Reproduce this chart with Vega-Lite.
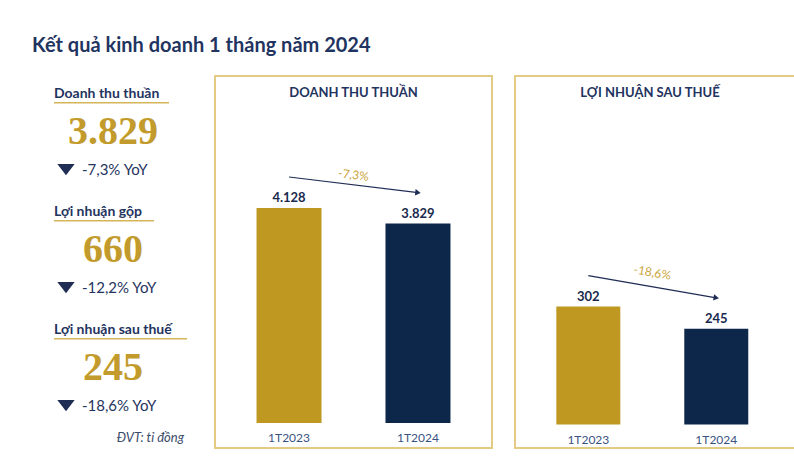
{
  "$schema": "https://vega.github.io/schema/vega-lite/v6.json",
  "padding": {"left": 32, "top": 36, "right": 0, "bottom": 0},
  "background": "white",
  "title": {
    "text": "Kết quả kinh doanh 1 tháng năm 2024",
    "anchor": "start",
    "font": "Lato",
    "fontSize": 20,
    "fontWeight": "bold",
    "color": "#1F3460",
    "baseline": "alphabetic",
    "offset": 3
  },
  "spacing": 23,
  "bounds": "flush",
  "hconcat": [
    {
      "width": 160,
      "height": 372,
      "data": {
        "values": [
          {"i": 0, "label": "Doanh thu thuần", "value": 3829, "yoy": "-7,3% YoY"},
          {"i": 1, "label": "Lợi nhuận gộp", "value": 660, "yoy": "-12,2% YoY"},
          {"i": 2, "label": "Lợi nhuận sau thuế", "value": 245, "yoy": "-18,6% YoY"}
        ]
      },
      "title": {
        "text": "ĐVT: tỉ đồng",
        "orient": "bottom",
        "anchor": "end",
        "offset": -10,
        "dx": -8,
        "baseline": "middle",
        "font": "Lato",
        "fontStyle": "italic",
        "fontWeight": "normal",
        "fontSize": 13,
        "color": "#3A4A6B"
      },
      "encoding": {
        "y": {"field": "i", "type": "quantitative", "scale": {"domain": [-0.15, 3.0025], "reverse": true}, "axis": null}
      },
      "layer": [
        {
          "mark": {"type": "text", "align": "left", "baseline": "middle", "font": "Lato", "fontWeight": "bold", "fontSize": 14, "color": "#1F3460"},
          "encoding": {
            "x": {"datum": 0, "type": "quantitative", "scale": {"domain": [-2.933, 18.4]}, "axis": null},
            "text": {"field": "label"}
          }
        },
        {
          "transform": [{"filter": "datum.i == 0"}],
          "mark": {"type": "rule", "color": "#D4B55A", "strokeWidth": 1.5, "yOffset": 9},
          "encoding": {
            "x": {"datum": 0, "type": "quantitative", "scale": {"domain": [-2.933, 18.4]}, "axis": null},
            "x2": {"datum": 15.33}
          }
        },
        {
          "transform": [{"filter": "datum.i == 1"}],
          "mark": {"type": "rule", "color": "#D4B55A", "strokeWidth": 1.5, "yOffset": 9},
          "encoding": {
            "x": {"datum": 0, "type": "quantitative", "scale": {"domain": [-2.933, 18.4]}, "axis": null},
            "x2": {"datum": 13.33}
          }
        },
        {
          "transform": [{"filter": "datum.i == 2"}],
          "mark": {"type": "rule", "color": "#D4B55A", "strokeWidth": 1.5, "yOffset": 9},
          "encoding": {
            "x": {"datum": 0, "type": "quantitative", "scale": {"domain": [-2.933, 18.4]}, "axis": null},
            "x2": {"datum": 17.73}
          }
        },
        {
          "mark": {"type": "text", "align": "center", "baseline": "middle", "font": "Liberation Serif", "fontWeight": "bold", "fontSize": 40, "color": "#C29B2C", "yOffset": 38.5},
          "encoding": {
            "x": {"datum": 7.87, "type": "quantitative", "scale": {"domain": [-2.933, 18.4]}, "axis": null},
            "text": {"field": "value", "type": "quantitative", "format": ",d"}
          }
        },
        {
          "mark": {"type": "point", "shape": "M-1,-0.65L1,-0.65L0,0.65Z", "filled": true, "size": 300, "opacity": 1, "color": "#1F2D55", "yOffset": 76},
          "encoding": {
            "x": {"datum": 1.6, "type": "quantitative", "scale": {"domain": [-2.933, 18.4]}, "axis": null}
          }
        },
        {
          "mark": {"type": "text", "align": "left", "baseline": "middle", "font": "Lato", "fontSize": 15, "color": "#1F3460", "yOffset": 76},
          "encoding": {
            "x": {"datum": 3.73, "type": "quantitative", "scale": {"domain": [-2.933, 18.4]}, "axis": null},
            "text": {"field": "yoy"}
          }
        }
      ]
    },
    {
      "width": 277,
      "height": 372,
      "view": {"stroke": "#E3CB83", "strokeWidth": 2},
      "title": {
        "text": "DOANH THU THUẦN",
        "offset": -30,
        "baseline": "middle",
        "font": "Lato",
        "fontSize": 13,
        "fontWeight": "bold",
        "color": "#1F3460"
      },
      "data": {
        "values": [
          {"period": "1T2023", "value": 4128, "chg": "-7,3%"},
          {"period": "1T2024", "value": 3829, "chg": "-7,3%"}
        ]
      },
      "encoding": {
        "x": {
          "field": "period", "type": "nominal", "sort": null,
          "scale": {"paddingInner": 0.496, "paddingOuter": 0.322, "align": 0.5},
          "axis": {"title": null, "domain": false, "ticks": false, "tickSize": 0, "labelPadding": 0, "offset": -11, "labelBaseline": "middle", "labelAngle": 0, "labelFont": "Lato", "labelFontSize": 12, "labelColor": "#3A5282", "grid": false}
        },
        "y": {"field": "value", "type": "quantitative", "scale": {"domain": [-480, 6663]}, "axis": null}
      },
      "layer": [
        {
          "mark": {"type": "bar"},
          "encoding": {"color": {"field": "period", "type": "nominal", "scale": {"range": ["#BE9820", "#0C2749"]}, "legend": null}}
        },
        {
          "mark": {"type": "text", "baseline": "middle", "dy": -10, "font": "Lato", "fontWeight": "bold", "fontSize": 13, "color": "#1A2A4E"},
          "encoding": {"text": {"field": "value", "type": "quantitative", "format": ",d"}}
        },
        {
          "mark": {"type": "line", "color": "#1F2D55", "strokeWidth": 1.2, "yOffset": -31},
          "encoding": {}
        },
        {
          "transform": [{"filter": "datum.period == '1T2024'"}],
          "mark": {"type": "point", "shape": "triangle-right", "filled": true, "size": 40, "angle": 7, "opacity": 1, "color": "#1F2D55", "yOffset": -31},
          "encoding": {}
        },
        {
          "transform": [{"filter": "datum.period == '1T2023'"}],
          "mark": {"type": "text", "baseline": "middle", "xOffset": 64.5, "yOffset": -33, "angle": 7, "font": "Lato", "fontSize": 12, "color": "#C9A43C"},
          "encoding": {"text": {"field": "chg"}}
        }
      ]
    },
    {
      "width": 281,
      "height": 372,
      "view": {"stroke": "#E3CB83", "strokeWidth": 2},
      "title": {
        "text": "LỢI NHUẬN SAU THUẾ",
        "offset": -30,
        "dx": -5.5,
        "baseline": "middle",
        "font": "Lato",
        "fontSize": 13,
        "fontWeight": "bold",
        "color": "#1F3460"
      },
      "data": {
        "values": [
          {"period": "1T2023", "value": 302, "chg": "-18,6%"},
          {"period": "1T2024", "value": 245, "chg": "-18,6%"}
        ]
      },
      "encoding": {
        "x": {
          "field": "period", "type": "nominal", "sort": null,
          "scale": {"paddingInner": 0.5, "paddingOuter": 0.348, "align": 0.464},
          "axis": {"title": null, "domain": false, "ticks": false, "tickSize": 0, "labelPadding": 0, "offset": -9, "labelBaseline": "middle", "labelAngle": 0, "labelFont": "Lato", "labelFontSize": 12, "labelColor": "#3A5282", "grid": false}
        },
        "y": {"field": "value", "type": "quantitative", "scale": {"domain": [-60, 892]}, "axis": null}
      },
      "layer": [
        {
          "mark": {"type": "bar"},
          "encoding": {"color": {"field": "period", "type": "nominal", "scale": {"range": ["#BE9820", "#0C2749"]}, "legend": null}}
        },
        {
          "mark": {"type": "text", "baseline": "middle", "dy": -10, "font": "Lato", "fontWeight": "bold", "fontSize": 13, "color": "#1A2A4E"},
          "encoding": {"text": {"field": "value", "type": "quantitative", "format": ",d"}}
        },
        {
          "mark": {"type": "line", "color": "#1F2D55", "strokeWidth": 1.2, "yOffset": -31},
          "encoding": {}
        },
        {
          "transform": [{"filter": "datum.period == '1T2024'"}],
          "mark": {"type": "point", "shape": "triangle-right", "filled": true, "size": 40, "angle": 10, "opacity": 1, "color": "#1F2D55", "yOffset": -31},
          "encoding": {}
        },
        {
          "transform": [{"filter": "datum.period == '1T2023'"}],
          "mark": {"type": "text", "baseline": "middle", "xOffset": 64, "yOffset": -34, "angle": 10, "font": "Lato", "fontSize": 12, "color": "#C9A43C"},
          "encoding": {"text": {"field": "chg"}}
        }
      ]
    }
  ],
  "resolve": {"scale": {"color": "independent"}},
  "config": {
    "view": {"stroke": null},
    "font": "Lato",
    "locale": {"number": {"decimal": ",", "thousands": ".", "grouping": [3], "currency": ["", " ₫"]}}
  }
}
